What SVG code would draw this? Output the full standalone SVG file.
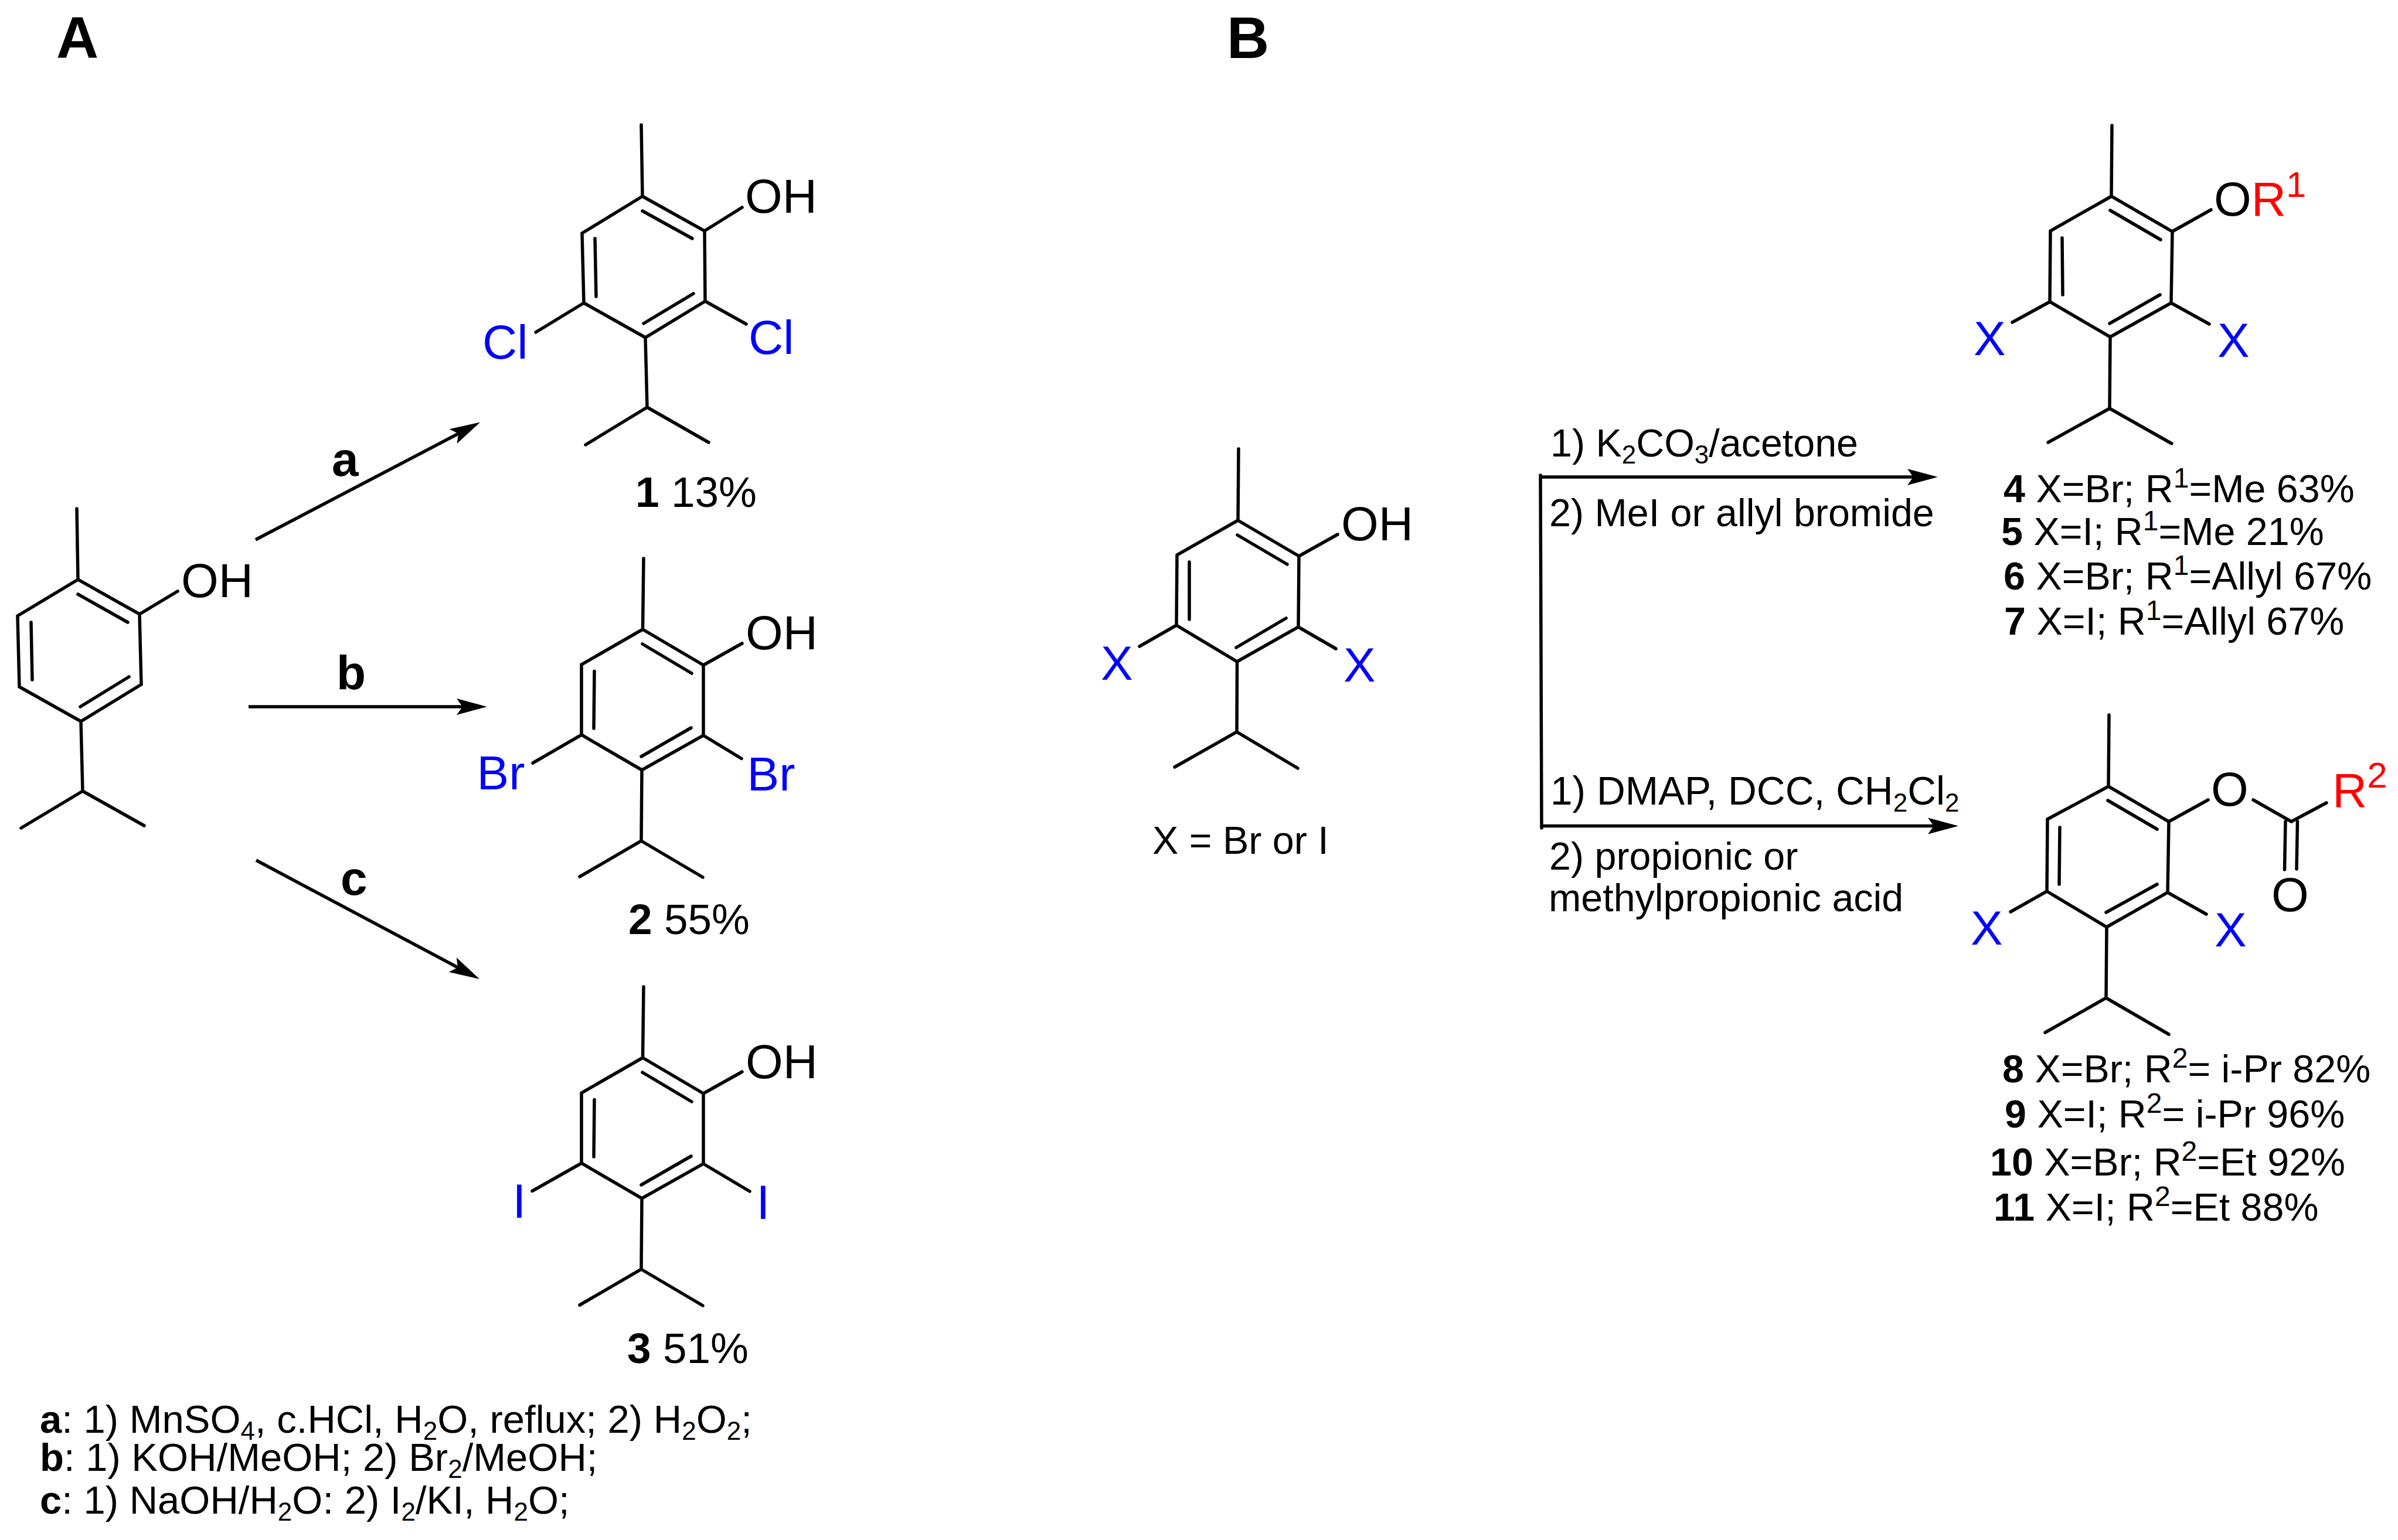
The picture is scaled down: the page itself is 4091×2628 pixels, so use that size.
<svg xmlns="http://www.w3.org/2000/svg" width="4091" height="2628" viewBox="0 0 4091 2628">
<style>
text{font-family:"Liberation Sans",Arial,sans-serif;fill:#000}
.bond{fill:none;stroke:#000;stroke-width:5.5;stroke-linecap:round;stroke-linejoin:miter}
.arrow{fill:none;stroke:#000;stroke-width:5.5;marker-end:url(#head)}
.atom{font-size:82px}
.blue{fill:#0000ff}
.red{fill:#ff0000}
.big{font-size:100px;font-weight:bold}
.step{font-size:82px;font-weight:bold}
.yield{font-size:73px}
.lab{font-size:66.4px}
.wide{font-size:67.6px}
.note{font-size:67px}
.b{font-weight:bold}
.sub{font-size:44px}
.sup{font-size:48px}
.sup2{font-size:62px}
</style>
<defs>
<marker id="head" markerUnits="userSpaceOnUse" markerWidth="60" markerHeight="34" viewBox="-10 -17 60 34" refX="0" refY="0" orient="auto">
<path d="M42 0L-10 -14L0 0L-10 14Z" fill="#000"/>
</marker>
</defs>
<rect width="4091" height="2628" fill="#fff"/>
<text class="big" x="96" y="99">A</text>
<text class="big" x="2093" y="99">B</text>

<g id="thymol">
<path class="bond" d="M131 868L133 989L238 1048L241 1168L138 1231L33 1172L30 1051L133 989M133 1014L218 1062M53 1062L55 1160M137 1206L220 1155M238 1048L303 1009M138 1231L141 1350L36 1413M141 1350L246 1409"/>
<text class="atom" x="309" y="1019">OH</text>
</g>

<g id="compound-1">
<path class="bond" d="M1094 213L1096 335L1202 394L1203 514L1101 576L996 517L993 398L1096 335M1096 360L1181 407M1015 407L1017 506M1098 552L1183 501M1202 394L1266 354M1203 514L1273 553M996 517L914 567M1101 576L1104 695L999 759M1104 695L1209 755"/>
<text class="atom" x="1271" y="363">OH</text>
<text class="atom blue" x="1277" y="604">Cl</text>
<text class="atom blue" x="823" y="612">Cl</text>
<text class="yield" x="1084" y="865"><tspan class="b">1</tspan> 13%</text>
</g>

<g id="compound-2">
<path class="bond" d="M1098 953L1096.500 1074L1200 1135L1200 1255L1095 1314L992 1254L992 1134L1096.500 1074M1096 1099L1180 1149M1014 1145.500L1013 1243M1094 1291L1179 1242M1200 1135L1266 1098M1200 1255L1265 1294.500M992 1254L909 1302M1095 1314L1094 1435L989 1496M1094 1435L1199 1497"/>
<text class="atom" x="1272" y="1108">OH</text>
<text class="atom blue" x="813.500" y="1347">Br</text>
<text class="atom blue" x="1274.500" y="1349">Br</text>
<text class="yield" x="1072" y="1594"><tspan class="b">2</tspan> 55%</text>
</g>

<g id="compound-3">
<path class="bond" d="M1098 1684L1096.500 1805L1200 1866L1200 1986L1095 2045L992 1985L992 1865L1096.500 1805M1096 1830L1180 1880M1014 1876.500L1013 1974M1094 2022L1179 1973M1200 1866L1266 1829M1200 1986L1279 2033M992 1985L908 2032.500M1095 2045L1094 2166L989 2227M1094 2166L1199 2228"/>
<text class="atom" x="1272" y="1840">OH</text>
<text class="atom blue" x="874.500" y="2077.500">I</text>
<text class="atom blue" x="1290.500" y="2080">I</text>
<text class="yield" x="1070" y="2326"><tspan class="b">3</tspan> 51%</text>
</g>

<g id="compound-xx">
<path class="bond" d="M2113 766L2112 888L2216 949L2215 1070L2110.500 1129L2007 1067L2008 947L2112 888M2111 913L2196 963M2029 959L2029 1057M2109 1105L2194 1055M2216 949L2282 912M2215 1070L2279 1107M2007 1067L1944 1103M2110.500 1129L2110 1249L2004 1309M2110 1249L2214 1311"/>
<text class="atom" x="2288" y="922">OH</text>
<text class="atom blue" x="1878" y="1160">X</text>
<text class="atom blue" x="2292" y="1163">X</text>
<text class="lab" x="1966" y="1457">X = Br or I</text>
</g>

<g id="compounds-4-7">
<path class="bond" d="M3603 214L3602 335L3706 395L3704 517L3600 575L3497 515L3498 394L3602 335M3600 359L3686 409M3518 406L3519 503M3599 552L3685 503M3706 395L3772 358M3704 517L3769 553M3497 515L3433 550M3600 575L3599 697L3494 755M3599 697L3705 757"/>
<text class="atom" x="3777" y="368">O<tspan class="red">R</tspan><tspan class="red sup2" dy="-32">1</tspan></text>
<text class="atom blue" x="3367" y="606">X</text>
<text class="atom blue" x="3783" y="609">X</text>
<text class="lab" x="3418" y="857"><tspan class="b">4</tspan> X=Br; R<tspan class="sup" dy="-25">1</tspan><tspan dy="25">=Me 63%</tspan></text>
<text class="lab" x="3414" y="930"><tspan class="b">5</tspan> X=I; R<tspan class="sup" dy="-25">1</tspan><tspan dy="25">=Me 21%</tspan></text>
<text class="lab" x="3418" y="1006"><tspan class="b">6</tspan> X=Br; R<tspan class="sup" dy="-25">1</tspan><tspan dy="25">=Allyl 67%</tspan></text>
<text class="lab" x="3419" y="1083"><tspan class="b">7</tspan> X=I; R<tspan class="sup" dy="-25">1</tspan><tspan dy="25">=Allyl 67%</tspan></text>
</g>

<g id="compounds-8-11">
<path class="bond" d="M3598 1220L3597 1342L3700 1402L3698 1523L3594 1582L3492 1521L3493 1398L3597 1342M3596 1366L3680 1415M3514 1412L3513 1509M3593 1557L3680 1509M3700 1402L3767 1365M3698 1523L3764 1560M3492 1521L3430 1556M3594 1582L3593 1703L3489 1762M3593 1703L3700 1765M3844 1365L3909 1402L3969 1370M3899 1402L3897.500 1484M3919.500 1402L3918 1483"/>
<text class="atom" x="3772" y="1375">O</text>
<text class="atom" x="3875" y="1555">O</text>
<text class="atom red" x="3979" y="1377">R<tspan class="sup2" dy="-33">2</tspan></text>
<text class="atom blue" x="3362" y="1612">X</text>
<text class="atom blue" x="3778" y="1615">X</text>
<text class="lab" x="3416" y="1847"><tspan class="b">8</tspan> X=Br; R<tspan class="sup" dy="-25">2</tspan><tspan dy="25">= i-Pr 82%</tspan></text>
<text class="lab" x="3420" y="1924"><tspan class="b">9</tspan> X=I; R<tspan class="sup" dy="-25">2</tspan><tspan dy="25">= i-Pr 96%</tspan></text>
<text class="lab" x="3395" y="2006"><tspan class="b">10</tspan> X=Br; R<tspan class="sup" dy="-25">2</tspan><tspan dy="25">=Et 92%</tspan></text>
<text class="lab" x="3401" y="2083"><tspan class="b">11</tspan> X=I; R<tspan class="sup" dy="-25">2</tspan><tspan dy="25">=Et 88%</tspan></text>
</g>

<g id="connectors">
<line class="arrow" x1="436" y1="921" x2="782" y2="740"/>
<line class="arrow" x1="424" y1="1206" x2="789" y2="1206"/>
<line class="arrow" x1="437" y1="1468" x2="781" y2="1651"/>
<path class="bond" d="M2628 811L2630 1413" stroke-linecap="butt"/>
<line class="arrow" x1="2628" y1="814" x2="3264" y2="814"/>
<line class="arrow" x1="2630" y1="1409.500" x2="3299" y2="1409.500"/>
</g>

<g id="reagents">
<text class="step" x="566" y="812">a</text>
<text class="step" x="574" y="1176">b</text>
<text class="step" x="581" y="1527">c</text>
<text class="lab" x="2645" y="779">1) K<tspan class="sub" dy="12">2</tspan><tspan dy="-12">CO</tspan><tspan class="sub" dy="12">3</tspan><tspan dy="-12">/acetone</tspan></text>
<text class="lab" x="2643" y="898">2) MeI or allyl bromide</text>
<text class="wide" x="2645" y="1373">1) DMAP, DCC, CH<tspan class="sub" dy="12">2</tspan><tspan dy="-12">Cl</tspan><tspan class="sub" dy="12">2</tspan></text>
<text class="lab" x="2643" y="1484">2) propionic or</text>
<text class="lab" x="2642" y="1555">methylpropionic acid</text>
</g>

<g id="conditions">
<text class="note" x="68" y="2445"><tspan class="b">a</tspan>: 1) MnSO<tspan class="sub" dy="12">4</tspan><tspan dy="-12">, c.HCl, H</tspan><tspan class="sub" dy="12">2</tspan><tspan dy="-12">O, reflux; 2) H</tspan><tspan class="sub" dy="12">2</tspan><tspan dy="-12">O</tspan><tspan class="sub" dy="12">2</tspan><tspan dy="-12">;</tspan></text>
<text class="note" x="68" y="2510"><tspan class="b">b</tspan>: 1) KOH/MeOH; 2) Br<tspan class="sub" dy="12">2</tspan><tspan dy="-12">/MeOH;</tspan></text>
<text class="note" x="68" y="2583"><tspan class="b">c</tspan>: 1) NaOH/H<tspan class="sub" dy="12">2</tspan><tspan dy="-12">O: 2) I</tspan><tspan class="sub" dy="12">2</tspan><tspan dy="-12">/KI, H</tspan><tspan class="sub" dy="12">2</tspan><tspan dy="-12">O;</tspan></text>
</g>
</svg>
